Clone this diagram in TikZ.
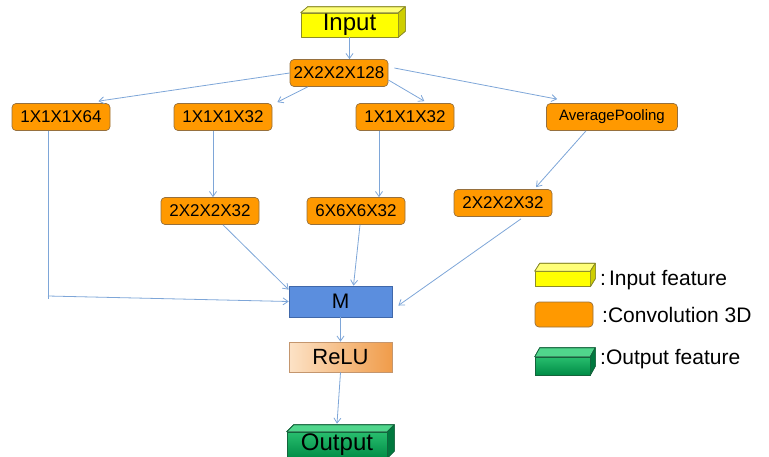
\documentclass[tikz,border=0pt]{standalone}
\usepackage{fontspec}
\setmainfont{Liberation Sans}
\usetikzlibrary{arrows.meta}
\definecolor{convfill}{RGB}{255,153,0}
\definecolor{convdraw}{RGB}{150,112,62}
\definecolor{linkc}{RGB}{126,166,216}
\definecolor{mfill}{RGB}{91,142,222}
\definecolor{mdraw}{RGB}{64,104,170}
\definecolor{reluL}{RGB}{252,226,198}
\definecolor{reluR}{RGB}{240,156,74}
\definecolor{reludraw}{RGB}{196,150,110}
\definecolor{yfront}{RGB}{255,255,0}
\definecolor{ytop}{RGB}{255,255,120}
\definecolor{yside}{RGB}{206,206,0}
\definecolor{ydraw}{RGB}{140,140,40}
\definecolor{gfrontT}{RGB}{40,190,110}
\definecolor{gfrontB}{RGB}{0,140,70}
\definecolor{gtop}{RGB}{80,214,140}
\definecolor{gside}{RGB}{0,120,62}
\definecolor{gdraw}{RGB}{20,100,60}
\newcommand{\fs}[1]{\fontsize{#1}{#1}\selectfont}
\tikzset{
  conv/.style={draw=convdraw, fill=convfill, rounded corners=4pt, line width=0.7pt,
    minimum width=98pt, minimum height=27pt, inner sep=0pt, font=\fs{17}},
  arr/.style={draw=linkc, line width=0.8pt, -{Straight Barb[length=5pt,width=7pt]}},
  plainlink/.style={draw=linkc, line width=0.8pt},
  yface/.style={draw=ydraw, line width=0.6pt, line join=round},
  gface/.style={draw=gdraw, line width=0.6pt, line join=round},
  legtext/.style={anchor=west, inner sep=0pt, font=\fs{21}}
}
\begin{document}
\begin{tikzpicture}[x=1pt,y=-1pt]
\useasboundingbox (0,0) rectangle (769,456);
\clip (0,0) rectangle (769,456);

% input block (3D box)
\node[yface, fill=yfront, minimum width=97pt, minimum height=24pt, inner sep=0pt,
  font=\fs{24}] (in) at (349.5,25) {Input};
\fill[yface, fill=ytop] (in.north west) -- ++(7,-6) -- ([shift={(7,-6)}]in.north east) -- (in.north east) -- cycle;
\fill[yface, fill=yside] (in.north east) -- ++(7,-6) -- ([shift={(7,-6)}]in.south east) -- (in.south east) -- cycle;
\draw[yface] (in.north west) -- ++(7,-6) -- ([shift={(7,-6)}]in.north east) -- ([shift={(7,-6)}]in.south east) -- (in.south east);
\draw[yface] (in.north east) -- ++(7,-6);

% convolution layers
\node[conv] (top)  at (339,73)  {2X2X2X128};
\node[conv] (n64)  at (61,117)  {1X1X1X64};
\node[conv] (n32a) at (223,117) {1X1X1X32};
\node[conv] (n32b) at (405,117) {1X1X1X32};
\node[conv, minimum width=131pt, font=\fs{15}] (avg) at (612,117) {AveragePooling};
\node[conv] (c2a)  at (210,211) {2X2X2X32};
\node[conv] (c6)   at (356,211) {6X6X6X32};
\node[conv] (c2b)  at (503,203) {2X2X2X32};

% merge and activation
\node[draw=mdraw, fill=mfill, line width=0.7pt, minimum width=103pt, minimum height=31pt,
  inner sep=0pt, font=\fs{21}] (M) at (340.5,301.5) {M};
\node[draw=reludraw, left color=reluL, right color=reluR, line width=0.7pt,
  minimum width=103pt, minimum height=30pt, inner sep=0pt, font=\fs{22}] (relu) at (340.5,357) {ReLU};

% output block (3D box), running past the lower edge
\node[gface, top color=gfrontT, bottom color=gfrontB, minimum width=100pt, minimum height=26pt,
  inner sep=0pt, font=\fs{24}] (out) at (337,445) {Output};
\fill[gface, fill=gtop] (out.north west) -- ++(7,-7) -- ([shift={(7,-7)}]out.north east) -- (out.north east) -- cycle;
\fill[gface, fill=gside] (out.north east) -- ++(7,-7) -- ([shift={(7,-7)}]out.south east) -- (out.south east) -- cycle;
\draw[gface] (out.north west) -- ++(7,-7) -- ([shift={(7,-7)}]out.north east) -- ([shift={(7,-7)}]out.south east);
\draw[gface] (out.north east) -- ++(7,-7);

% connectors
\coordinate (bend) at (48,296);
\draw[arr] (in.south) -- (in.south |- top.north);
\draw[arr] (top.west) -- ([xshift=-12pt,yshift=2pt]n64.north east);
\draw[arr] ([xshift=18pt]top.south west) -- ([xshift=5pt,yshift=1pt]n32a.north east);
\draw[arr] ([yshift=-7pt]top.east) -- ([xshift=-30pt,yshift=2pt]n32b.north east);
\draw[arr] ([xshift=6pt,yshift=5pt]top.east) -- ([xshift=11pt,yshift=4pt]avg.north west);
\draw[plainlink] ([xshift=-13pt]n64.south) -- ([yshift=-3pt]bend);
\draw[arr] (bend) -- (M.west);
\draw[arr] ([xshift=-10pt]n32a.south) -- ([xshift=-10pt]n32a.south |- c2a.north);
\draw[arr] ([xshift=-26pt]n32b.south) -- ([xshift=-26pt]n32b.south |- c6.north);
\draw[arr] ([xshift=-26pt]avg.south) -- ([xshift=33pt,yshift=2pt]c2b.north);
\draw[arr] ([xshift=13pt]c2a.south) -- ([yshift=-4pt]M.north west);
\draw[arr] ([xshift=4pt]c6.south) -- ([xshift=13pt]M.north);
\draw[arr] ([xshift=18pt,yshift=-2pt]c2b.south) -- ([xshift=6pt,yshift=-4pt]M.east);
\draw[arr] (M.south) -- (relu.north);
\draw[arr] (relu.south) -- ([yshift=8pt]out.north);

% legend
\node[yface, fill=yfront, minimum width=55pt, minimum height=15pt, inner sep=0pt] (ly) at (562.5,279) {};
\fill[yface, fill=ytop] (ly.north west) -- ++(5,-8) -- ([shift={(5,-8)}]ly.north east) -- (ly.north east) -- cycle;
\fill[yface, fill=yside] (ly.north east) -- ++(5,-8) -- ([shift={(5,-8)}]ly.south east) -- (ly.south east) -- cycle;
\draw[yface] (ly.north west) -- ++(5,-8) -- ([shift={(5,-8)}]ly.north east) -- ([shift={(5,-8)}]ly.south east) -- (ly.south east);
\draw[yface] (ly.north east) -- ++(5,-8);
\node[legtext] (lyt) at (600,280) {:\hspace{3pt}Input feature};

\node[conv, minimum width=58pt, minimum height=25pt] (lo) at (564,314.5) {};
\node[legtext] (lot) at (602,315) {:Convolution 3D};

\node[gface, top color=gfrontT, bottom color=gfrontB, minimum width=55pt, minimum height=18pt,
  inner sep=0pt] (lg) at (562.5,366) {};
\fill[gface, fill=gtop] (lg.north west) -- ++(5,-9) -- ([shift={(5,-9)}]lg.north east) -- (lg.north east) -- cycle;
\fill[gface, fill=gside] (lg.north east) -- ++(5,-9) -- ([shift={(5,-9)}]lg.south east) -- (lg.south east) -- cycle;
\draw[gface] (lg.north west) -- ++(5,-9) -- ([shift={(5,-9)}]lg.north east) -- ([shift={(5,-9)}]lg.south east) -- (lg.south east);
\draw[gface] (lg.north east) -- ++(5,-9);
\node[legtext] (lgt) at (600,359) {:Output feature};
\end{tikzpicture}
\end{document}
